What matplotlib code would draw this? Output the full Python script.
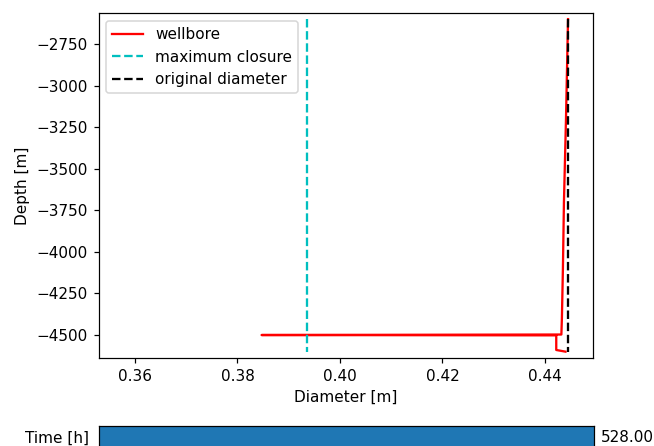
import matplotlib
matplotlib.use("Agg")
import matplotlib.pyplot as plt
import numpy as np

# wellbore profile (diameter in m vs depth in m)
wellbore_diam = [0.4445, 0.4441, 0.4437, 0.4435, 0.4433, 0.4432, 0.3847, 0.4422, 0.4422, 0.4440]
wellbore_depth = [-2600, -3200, -3700, -4100, -4400, -4497, -4500, -4502, -4590, -4600]

max_closure_diam = 0.3935
original_diam = 0.4445
line_depth = [-2600, -4600]

time_max = 528.0
time_value = 528.0

W, H = 654, 446
DPI = 110
fig = plt.figure(figsize=(W / DPI, H / DPI), dpi=DPI)
ax = fig.add_axes([98.5 / W, 1 - 358.3 / H, (593 - 98.5) / W, (358.3 - 13.3) / H])

ax.plot(wellbore_diam, wellbore_depth, color='r', label='wellbore')
ax.plot([max_closure_diam] * 2, line_depth, 'c--', label='maximum closure')
ax.plot([original_diam] * 2, line_depth, 'k--', label='original diameter')
ax.set_xlim(0.35288, 0.44937)
ax.set_ylim(-4640, -2565)
ax.set_xlabel('Diameter [m]')
ax.set_ylabel('Depth [m]')
ax.legend(loc='upper left')

# slider-like time bar
sax = fig.add_axes([99 / W, 1 - 450 / H, (594 - 99) / W, 24 / H])
sax.axvspan(0, time_value, 0, 1, color='C0')
sax.set_xlim(0, time_max)
sax.set_xticks([])
sax.set_yticks([])
sax.text(-0.02, 0.5, 'Time [h]', transform=sax.transAxes, ha='right', va='center')
sax.text(1.014, 0.5, f'{time_value:.2f}', transform=sax.transAxes, ha='left', va='center')

fig.savefig('out.png', dpi=DPI)
